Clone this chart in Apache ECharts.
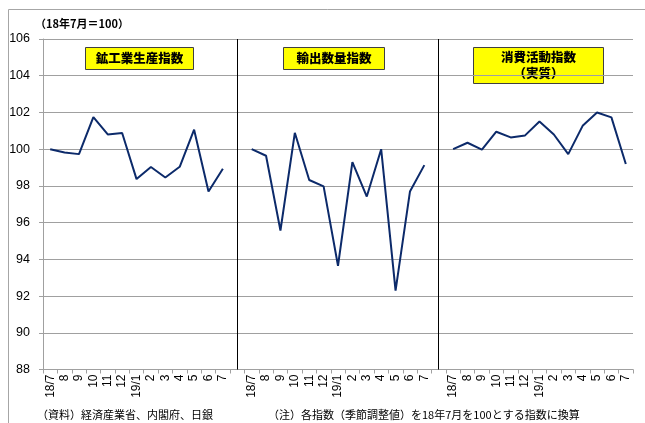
<!DOCTYPE html>
<html><head><meta charset="utf-8">
<script src="https://cdn.jsdelivr.net/npm/echarts@6/dist/echarts.min.js"></script>
<style>html,body{margin:0;padding:0;background:#fff}#c{width:645px;height:423px}</style>
</head><body><div id="c"></div>
<script>
const months = ['18/7','8','9','10','11','12','19/1','2','3','4','5','6','7'];
const yTicks = {min: 88, max: 106, interval: 2};
const panelTitles = ['鉱工業生産指数', '輸出数量指数', '消費活動指数\n（実質）'];
const mining      = [100.0, 99.82, 99.73, 101.75, 100.80, 100.88, 98.37, 99.03, 98.46, 99.04, 101.06, 97.69, 98.93];
const exportsQ    = [100.0, 99.64, 95.57, 100.89, 98.32, 97.97, 93.65, 99.30, 97.42, 100.0, 92.30, 97.69, 99.13];
const consumption = [100.0, 100.35, 99.98, 100.95, 100.64, 100.75, 101.51, 100.80, 99.73, 101.27, 102.0, 101.73, 99.19];
const unitLabel = '（18年7月＝100）';
const note1 = '（資料）経済産業省、内閣府、日銀';
const note2 = '（注）各指数（季節調整値）を18年7月を100とする指数に換算';

// build 41-category axis: 13 + blank + 13 + blank + 13
const cats = [];
const panels = [mining, exportsQ, consumption];
panels.forEach((p, pi) => {
  months.forEach(m => cats.push(pi + '|' + m));
  if (pi < 2) cats.push('gap' + pi + '|');
});
function padded(pi, arr) {
  const out = new Array(cats.length).fill('-');
  const start = pi * 14;
  arr.forEach((v, i) => out[start + i] = v);
  return out;
}
const lineColor = '#0c2a6a';
const series = panels.map((arr, pi) => ({
  type: 'line', data: padded(pi, arr), symbol: 'none', silent: true,
  lineStyle: {color: lineColor, width: 2}, animation: false,
  markLine: pi === 0 ? {
    symbol: 'none', silent: true, animation: false,
    label: {show: false},
    lineStyle: {color: '#000', width: 1, type: 'solid'},
    data: [{xAxis: cats[13]}, {xAxis: cats[27]}]
  } : undefined
}));

const chart = echarts.init(document.getElementById('c'), null, {renderer: 'canvas'});
const boxFont = '"Noto Sans CJK JP", sans-serif';
function box(x, y, w, h, text) {
  return {
    type: 'group', left: x, top: y, children: [
      {type: 'rect', shape: {x: 0, y: 0, width: w, height: h}, style: {fill: '#ffff00', stroke: '#404040', lineWidth: 1}},
      {type: 'text', x: w / 2, y: h / 2, style: {text: text, fill: '#000', font: '900 12.5px ' + boxFont, align: 'center', verticalAlign: 'middle', lineHeight: 16}}
    ]
  };
}
chart.setOption({
  animation: false,
  grid: {left: 43, right: 12, top: 39, bottom: 53.5},
  xAxis: {
    type: 'category', data: cats, boundaryGap: true,
    axisLine: {show: true, lineStyle: {color: '#a0a0a0'}},
    axisTick: {show: true, interval: 0, length: 4, lineStyle: {color: '#a0a0a0'}},
    axisLabel: {interval: 0, rotate: 90, margin: 5, color: '#000', fontSize: 12, fontFamily: 'Liberation Sans, Arial',
      formatter: v => v.split('|')[1]},
    splitLine: {show: false}
  },
  yAxis: {
    type: 'value', min: yTicks.min, max: yTicks.max, interval: yTicks.interval,
    axisLine: {show: true, lineStyle: {color: '#a0a0a0'}},
    axisTick: {show: true, length: 4, lineStyle: {color: '#a0a0a0'}},
    axisLabel: {margin: 13, color: '#000', fontSize: 12.5, fontFamily: 'Liberation Sans, Arial'},
    splitLine: {show: true, lineStyle: {color: '#a0a0a0', width: 1}}
  },
  series: series,
  graphic: [
    {type: 'rect', shape: {x: 8.5, y: 9.5, width: 700, height: 500}, style: {fill: 'none', stroke: '#a6a6a6', lineWidth: 1}, silent: true},
    {type: 'text', left: 35, top: 18, style: {text: unitLabel, fill: '#000', font: 'bold 11px ' + boxFont}},
    box(85, 47, 108, 22, panelTitles[0]),
    box(283, 47, 101, 22, panelTitles[1]),
    box(473, 47, 130, 36, panelTitles[2]),
    {type: 'text', left: 37, top: 409, style: {text: note1, fill: '#000', font: '11px ' + boxFont}},
    {type: 'text', left: 268, top: 409, style: {text: note2, fill: '#000', font: '11px ' + boxFont}}
  ]
});
</script></body></html>
